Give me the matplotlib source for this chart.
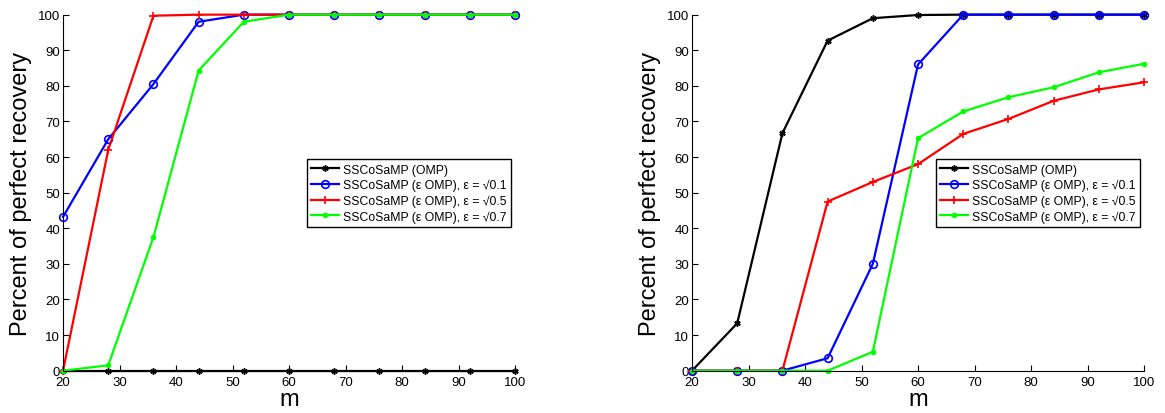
import matplotlib
matplotlib.use('Agg')
import matplotlib.pyplot as plt

plt.rcParams['font.family'] = ['Liberation Sans', 'DejaVu Sans']

m = [20, 28, 36, 44, 52, 60, 68, 76, 84, 92, 100]

labels = ["SSCoSaMP (OMP)",
          "SSCoSaMP (\u03b5 OMP), \u03b5 = \u221a0.1",
          "SSCoSaMP (\u03b5 OMP), \u03b5 = \u221a0.5",
          "SSCoSaMP (\u03b5 OMP), \u03b5 = \u221a0.7"]

# left panel
left_omp = [0, 0, 0, 0, 0, 0, 0, 0, 0, 0, 0]
left_eps01 = [43.2, 65, 80.5, 98, 100, 100, 100, 100, 100, 100, 100]
left_eps05 = [0, 62, 99.7, 100, 100, 100, 100, 100, 100, 100, 100]
left_eps07 = [0, 1.5, 37.5, 84.3, 98, 100, 100, 100, 100, 100, 100]

# right panel
right_omp = [0, 13.3, 66.7, 92.7, 99, 99.9, 100, 100, 100, 100, 100]
right_eps01 = [0, 0, 0, 3.5, 30, 86, 100, 100, 100, 100, 100]
right_eps05 = [0, 0, 0, 47.5, 53, 58, 66.5, 70.7, 75.8, 79, 81]
right_eps07 = [0, 0, 0, 0, 5.3, 65.3, 72.8, 76.8, 79.6, 83.8, 86.2]

fig = plt.figure(figsize=(11.65, 4.14), dpi=100)
ax1 = fig.add_axes([0.0541, 0.1022, 0.388, 0.860])
ax2 = fig.add_axes([0.594, 0.1022, 0.388, 0.860])


def draw(ax, omp, e1, e5, e7):
    ax.plot(m, omp, color='k', lw=1.6, marker=(6, 2, 0), ms=4.5, mew=1.1, label=labels[0])
    ax.plot(m, e1, color='#0000ff', lw=1.6, marker='o', ms=5.5, mfc='none', mew=1.2, label=labels[1])
    ax.plot(m, e5, color='#ff0000', lw=1.6, marker='+', ms=6, mew=1.2, label=labels[2])
    ax.plot(m, e7, color='#00ff00', lw=1.6, marker='o', ms=4, mew=0, label=labels[3])
    ax.set_xlim(20, 100)
    ax.set_ylim(0, 100)
    ax.set_xticks(range(20, 101, 10))
    ax.set_yticks(range(0, 101, 10))
    ax.spines['top'].set_visible(False)
    ax.spines['right'].set_visible(False)
    for s in ('left', 'bottom'):
        ax.spines[s].set_linewidth(0.8)
    ax.tick_params(direction='in', length=4, width=0.8, labelsize=9.5)
    ax.tick_params(axis='x', pad=4)
    ax.tick_params(axis='y', pad=2)
    ax.set_xlabel('m', fontsize=17, labelpad=0)
    ax.set_ylabel('Percent of perfect recovery', fontsize=17, labelpad=4)
    for ln in ax.lines:
        ln.set_clip_on(False)
    leg = ax.legend(loc='lower right', bbox_to_anchor=(0.99, 0.404), borderaxespad=0,
                    fontsize=8.8, fancybox=False, framealpha=1, edgecolor='k',
                    handlelength=2.3, handletextpad=0.3, borderpad=0.35,
                    labelspacing=0.28)
    leg.get_frame().set_linewidth(1.0)


draw(ax1, left_omp, left_eps01, left_eps05, left_eps07)
draw(ax2, right_omp, right_eps01, right_eps05, right_eps07)

fig.savefig('out.png', dpi=100)
